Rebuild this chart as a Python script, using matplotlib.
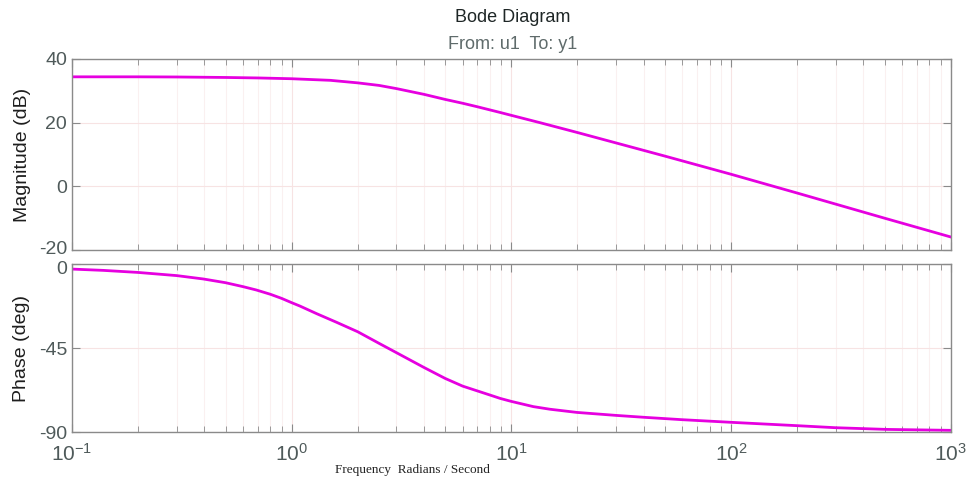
import numpy as np
import matplotlib
matplotlib.use("Agg")
from matplotlib import pyplot as plt
from matplotlib.ticker import LogLocator, FixedLocator, NullFormatter
from matplotlib.transforms import ScaledTranslation

# ------------------------------------------------------------------------------
# Data
# ------------------------------------------------------------------------------
freq_mag = [0.1, 0.2, 0.3, 0.5, 0.7, 1.0, 1.5, 2.0, 2.5, 3.0, 4.0, 5.0, 6.0,
            7.0, 8.9, 10.0, 13.5, 20.0, 50.0, 100.0, 200.0, 500.0, 1000.0]
mag_db = [34.4, 34.4, 34.35, 34.2, 34.05, 33.8, 33.3, 32.5, 31.7, 30.7, 28.9,
          27.3, 26.1, 25.0, 23.2, 22.3, 20.0, 16.9, 9.5, 3.8, -2.1, -10.0, -15.9]

freq_ph = [0.1, 0.139, 0.2, 0.3, 0.396, 0.5, 0.6, 0.69, 0.8, 0.9, 1.0, 1.09,
           1.3, 1.6, 2.0, 2.5, 3.0, 4.0, 5.0, 6.0, 8.0, 8.9, 10.0, 12.6, 15.0,
           19.9, 30.0, 40.0, 60.0, 100.0, 200.0, 300.0, 510.0, 1000.0]
phase_deg = [-2.7, -3.4, -4.5, -6.2, -8.0, -10.0, -12.1, -13.9, -16.2, -18.4,
             -20.7, -22.5, -26.6, -31.2, -36.3, -42.5, -47.5, -55.4, -61.3,
             -65.4, -70.2, -72.0, -73.6, -76.4, -77.8, -79.5, -81.1, -82.1,
             -83.4, -84.8, -86.6, -87.7, -88.6, -89.1]

mag_ticks = [-20, 0, 20, 40]
phase_ticks = [-90, -45, 0]

# ------------------------------------------------------------------------------
# Plot characteristics
# ------------------------------------------------------------------------------
plt.rcParams['font.family'] = ['Liberation Sans', 'DejaVu Sans']
plt.rcParams['axes.unicode_minus'] = False
plt.rcParams['mathtext.fontset'] = 'custom'
plt.rcParams['mathtext.rm'] = 'Liberation Sans'
plt.rcParams['mathtext.it'] = 'Liberation Sans:italic'
plt.rcParams['mathtext.default'] = 'regular'

line_col = '#e600e0'
spine_col = '#8a8a8a'
text_col = '#4f5a5a'

fig = plt.figure(figsize=(9.69, 4.82), dpi=100)
ax1 = fig.add_axes([0.0743, 0.4813, 0.9068, 0.3963])
ax2 = fig.add_axes([0.0743, 0.1037, 0.9068, 0.3485])


def style_axis(ax):
    ax.set_xscale('log')
    ax.set_xlim(0.1, 1000)
    ax.xaxis.set_major_locator(LogLocator(base=10, numticks=10))
    ax.xaxis.set_minor_locator(LogLocator(base=10, subs=np.arange(2, 10), numticks=50))
    ax.grid(True, which='major', color='#f7e3e3', linewidth=0.8)
    ax.grid(True, which='minor', color='#faf0f0', linewidth=0.8)
    ax.set_axisbelow(True)
    for sp in ax.spines.values():
        sp.set_color(spine_col)
        sp.set_linewidth(1.0)
    ax.tick_params(which='both', direction='in', top=True, right=True,
                   color=spine_col, labelcolor=text_col, labelsize=14)
    ax.tick_params(which='major', length=6)
    ax.tick_params(which='minor', length=4)


# ------------------------------------------------------------------------------
# Magnitude
# ------------------------------------------------------------------------------
style_axis(ax1)
ax1.plot(freq_mag, mag_db, color=line_col, linewidth=2.0)
ax1.set_ylim(-20, 40)
ax1.yaxis.set_major_locator(FixedLocator(mag_ticks))
ax1.xaxis.set_major_formatter(NullFormatter())
ax1.xaxis.set_minor_formatter(NullFormatter())
ax1.set_ylabel("Magnitude (dB)", fontsize=14, color='#1e1e1e', labelpad=6)
fig.text(0.529, 0.963, "Bode Diagram", ha='center', va='center',
         fontsize=13, color='#1e2626')
fig.text(0.529, 0.907, "From: u1  To: y1", ha='center', va='center',
         fontsize=13, color='#5f6b6b')

# ------------------------------------------------------------------------------
# Phase
# ------------------------------------------------------------------------------
style_axis(ax2)
ax2.plot(freq_ph, phase_deg, color=line_col, linewidth=2.0)
ax2.set_ylim(-90, 0)
ax2.yaxis.set_major_locator(FixedLocator(phase_ticks))
ax2.xaxis.set_minor_formatter(NullFormatter())
ax2.tick_params(axis='x', which='major', pad=8, labelsize=15)
ax2.set_ylabel("Phase (deg)", fontsize=14, color='#1e1e1e', labelpad=6)

# nudge the two tick labels that meet at the gap between the panels
t_low = ax1.yaxis.get_major_ticks()[0]
t_low.label1.set_transform(t_low.label1.get_transform()
                           + ScaledTranslation(0, 3 / 100, fig.dpi_scale_trans))
t_top = ax2.yaxis.get_major_ticks()[2]
t_top.label1.set_transform(t_top.label1.get_transform()
                           + ScaledTranslation(0, -3 / 100, fig.dpi_scale_trans))

fig.text(0.426, 0.025, "Frequency  Radians / Second", ha='center', va='center',
         fontsize=9.5, family=['Liberation Serif', 'DejaVu Serif'], color='#222222')

plt.savefig('out.png', dpi=100)
